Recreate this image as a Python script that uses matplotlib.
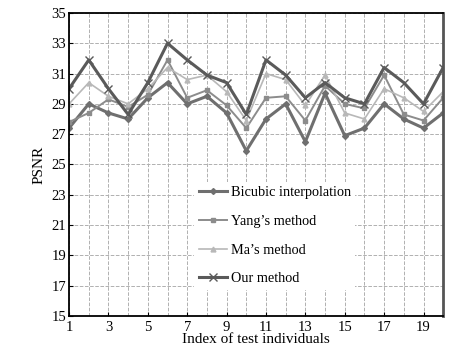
import matplotlib

matplotlib.use("Agg")
import matplotlib.pyplot as plt
from matplotlib.ticker import MultipleLocator

plt.rcParams["font.family"] = ["Liberation Serif", "DejaVu Serif"]

# PSNR per test individual
INDEX = list(range(1, 21))
BICUBIC = [27.4, 29.0, 28.4, 28.0, 29.4, 30.4, 29.0, 29.5, 28.4, 25.9,
           28.0, 29.0, 26.5, 29.7, 26.9, 27.4, 29.0, 28.0, 27.4, 28.4]
YANG = [27.8, 28.4, 29.3, 28.8, 29.6, 31.9, 29.4, 29.9, 28.9, 27.4,
        29.4, 29.5, 27.9, 30.2, 29.0, 28.7, 30.9, 28.3, 27.9, 29.4]
MA = [29.0, 30.4, 29.5, 29.0, 30.0, 31.4, 30.6, 30.9, 29.8, 27.9,
      31.0, 30.6, 28.9, 30.9, 28.4, 28.0, 30.0, 29.4, 28.5, 29.8]
OURS = [30.0, 31.9, 30.0, 28.3, 30.4, 33.0, 31.9, 30.9, 30.4, 28.3,
        31.9, 30.9, 29.4, 30.4, 29.4, 29.0, 31.4, 30.4, 29.0, 31.4]
LABELS = ["Bicubic interpolation", "Yang\u2019s method", "Ma\u2019s method", "Our method"]
X_TICKS = list(range(1, 20, 2))
Y_TICKS = list(range(15, 36, 2))

fig = plt.figure(figsize=(4.73, 3.51), dpi=100)
ax = fig.add_axes([0.146, 0.100, 0.791, 0.863])

series = [
    (BICUBIC, dict(color="#6f6f6f", lw=2.2, marker="D", ms=3)),
    (YANG, dict(color="#8c8c8c", lw=1.4, marker="s", ms=3)),
    (MA, dict(color="#b8b8b8", lw=1.2, marker="^", ms=3.5)),
    (OURS, dict(color="#5a5a5a", lw=2.2, marker="x", ms=6, mew=1.0)),
]
for (values, style), label in zip(series, LABELS):
    ax.plot(INDEX, values, label=label, **style)

ax.set_xlim(1, 20)
ax.set_ylim(15, 35)
ax.set_xticks(X_TICKS)
ax.xaxis.set_minor_locator(MultipleLocator(1))
ax.set_yticks(Y_TICKS)
ax.tick_params(direction="in", labelsize=10.5, length=3, pad=2)
ax.tick_params(axis="x", pad=4)
ax.tick_params(which="minor", length=0)
ax.grid(True, which="both", axis="x", ls="--", color="#b0b0b0", lw=0.7)
ax.grid(True, which="major", axis="y", ls="--", color="#b0b0b0", lw=0.7)
for side in ("left", "bottom", "top"):
    ax.spines[side].set_linewidth(1.3)
ax.spines["right"].set_linewidth(2.0)
ax.spines["right"].set_color("#555555")

ax.set_xlabel("Index of test individuals", fontsize=11, labelpad=-1)
ax.set_ylabel("PSNR", fontsize=11, labelpad=4)

leg = ax.legend(loc="center", bbox_to_anchor=(0.55, 0.265), frameon=True,
                fancybox=False, edgecolor="none", facecolor="white",
                framealpha=1, fontsize=10.3, labelspacing=1.1,
                handlelength=2.0, handletextpad=0.25, borderpad=0.3)

fig.savefig("out.png", dpi=100)
